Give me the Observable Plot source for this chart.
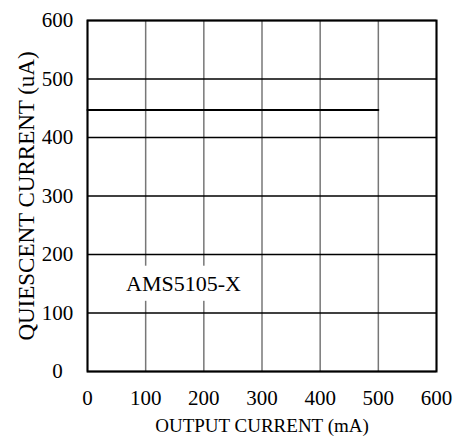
<!DOCTYPE html>
<html>
<head>
<meta charset="utf-8">
<script src="https://cdn.jsdelivr.net/npm/d3@7"></script>
<script src="https://cdn.jsdelivr.net/npm/@observablehq/plot@0.6"></script>
<style>
  html, body { margin: 0; padding: 0; background: #fff; }
  #chart svg, #chart svg text { font-family: "Liberation Serif", "Times New Roman", serif !important; }
</style>
</head>
<body>
<div id="chart"></div>
<script>
// Data
const outputCurrent = [0, 500];          // mA
const quiescentCurrent = [447, 447];     // uA
const xTicks = [0, 100, 200, 300, 400, 500, 600];
const yTicks = [0, 100, 200, 300, 400, 500, 600];
const labelText = ["AMS5105-X"];
const labelX = [165];
const labelY = [150];
const labelBoxX = [55, 280];
const labelBoxY = [120, 180];

const line = outputCurrent.map((x, i) => ({x, y: quiescentCurrent[i]}));
const labels = labelText.map((t, i) => ({t, x: labelX[i], y: labelY[i]}));
const box = [{x1: labelBoxX[0], x2: labelBoxX[1], y1: labelBoxY[0], y2: labelBoxY[1]}];

const chart = Plot.plot({
  width: 456,
  height: 441,
  marginLeft: 87,
  marginRight: 20,
  marginTop: 20,
  marginBottom: 70,
  style: {fontFamily: "Liberation Serif, serif", fontSize: "19px", color: "#000", background: "#fff"},
  x: {domain: [0, 600]},
  y: {domain: [0, 600]},
  marks: [
    Plot.ruleX(xTicks, {stroke: "#777", strokeWidth: 1.5}),
    Plot.ruleY(yTicks, {stroke: "#000", strokeWidth: 1.5}),
    Plot.rect(box, {x1: "x1", x2: "x2", y1: "y1", y2: "y2", fill: "#fff"}),
    Plot.text(labels, {x: "x", y: "y", text: "t", fontSize: 22, fill: "#000"}),
    Plot.line(line, {x: "x", y: "y", stroke: "#000", strokeWidth: 2}),
    Plot.axisX({ticks: xTicks, tickSize: 0, tickPadding: 19, fontSize: 21, label: null}),
    Plot.axisX({ticks: [], tickSize: 0, fontSize: 19, label: "OUTPUT CURRENT (mA)", labelAnchor: "center", labelOffset: 60, labelArrow: "none"}),
    Plot.axisY({ticks: yTicks, tickSize: 0, tickPadding: 30, textAnchor: "middle", fontSize: 21, label: null}),
    Plot.axisY({ticks: [], tickSize: 0, fontSize: 23, label: "QUIESCENT CURRENT (uA)", labelAnchor: "center", labelOffset: 70, labelArrow: "none"}),
    Plot.frame({stroke: "#000", strokeWidth: 2})
  ]
});
document.getElementById("chart").appendChild(chart);
</script>
</body>
</html>
